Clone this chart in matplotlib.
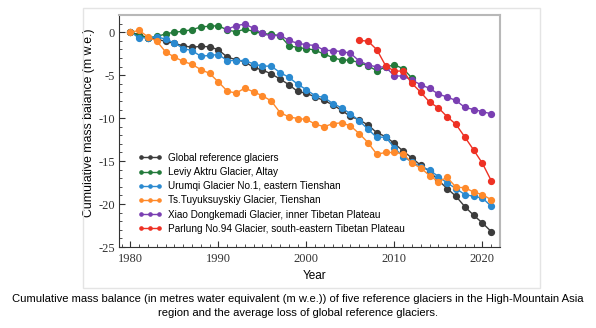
import numpy as np
import matplotlib.pyplot as plt
from matplotlib.ticker import MultipleLocator, FuncFormatter
from matplotlib.patches import Rectangle

# cumulative mass balance, m w.e.
years_global = list(range(1980, 2022))
global_ref = [0, -0.3, -0.65, -0.85, -1.05, -1.3, -1.6, -1.75, -1.65, -1.7,
              -2.05, -2.9, -3.2, -3.45, -4.1, -4.4, -4.85, -5.45, -6.1, -6.9,
              -7.1, -7.55, -7.95, -8.45, -9.1, -9.8, -10.2, -10.8, -11.7, -12.15,
              -12.95, -13.85, -14.65, -15.5, -16.2, -17.25, -18.2, -19.1, -20.3, -21.3,
              -22.2, -23.2]

years_leviy = list(range(1980, 2013))
leviy = [0, -0.4, -0.65, -0.5, -0.2, 0.0, 0.1, 0.3, 0.6, 0.7,
         0.75, 0.25, 0.05, 0.35, 0.1, -0.15, -0.25, -0.4, -1.55, -1.8,
         -1.9, -2.1, -2.55, -2.95, -3.25, -3.25, -3.55, -3.9, -4.5, -4.05,
         -3.8, -4.25, -5.35]

years_urumqi = list(range(1980, 2022))
urumqi = [0, -0.65, -0.65, -0.55, -0.8, -1.25, -1.9, -2.15, -2.8, -2.7,
          -2.6, -3.3, -3.3, -3.3, -3.7, -3.95, -3.95, -4.7, -5.25, -6.05,
          -6.7, -7.4, -7.6, -8.3, -8.8, -9.5, -10.3, -11.3, -12.25, -12.2,
          -13.45, -14.5, -15.1, -15.65, -16.05, -16.8, -17.55, -18.2, -18.9, -19.1,
          -19.3, -20.25]

years_tuyuksu = list(range(1980, 2022))
tuyuksu = [0, 0.2, -0.55, -1.05, -2.3, -2.9, -3.4, -3.75, -4.35, -4.8,
           -5.8, -6.85, -7.1, -6.5, -6.95, -7.4, -8.0, -9.35, -9.85, -10.05,
           -10.15, -10.7, -11.0, -10.65, -10.55, -10.9, -11.8, -12.85, -14.2, -14.0,
           -14.0, -14.15, -15.25, -15.8, -16.7, -17.4, -16.9, -18.05, -18.1, -18.6,
           -18.9, -19.5]

years_xiao = list(range(1991, 2022))
xiao = [0.35, 0.75, 0.95, 0.45, -0.15, -0.45, -0.35, -0.95, -1.3,
        -1.45, -1.55, -2.1, -2.15, -2.25, -2.45, -3.35, -3.8, -4.05, -4.05,
        -5.1, -5.1, -5.6, -6.1, -6.55, -7.2, -7.55, -7.95, -8.75, -9.0,
        -9.25, -9.5]

years_parlung = list(range(2006, 2022))
parlung = [-0.95, -1.05, -2.03, -3.9, -4.55, -4.5, -5.97, -7.0, -8.15, -8.8,
           -9.85, -10.73, -12.2, -13.7, -15.26, -17.27]

labels = ['Global reference glaciers',
          'Leviy Aktru Glacier, Altay',
          'Urumqi Glacier No.1, eastern Tienshan',
          'Ts.Tuyuksuyskiy Glacier, Tienshan',
          'Xiao Dongkemadi Glacier, inner Tibetan Plateau',
          'Parlung No.94 Glacier, south-eastern Tibetan Plateau']
colors = ['#3c3c3c', '#237a3b', '#2b8ad0', '#ff8a2b', '#7a3fb2', '#ee3124']

series = [(years_global, global_ref), (years_leviy, leviy), (years_urumqi, urumqi),
          (years_tuyuksu, tuyuksu), (years_xiao, xiao), (years_parlung, parlung)]

fig = plt.figure(figsize=(5.96, 3.28), dpi=100)
fig.add_artist(Rectangle((83 / 596, 1 - 288 / 328), 457 / 596, 280 / 328,
                         transform=fig.transFigure, fill=False,
                         edgecolor='#e4e4e4', lw=1))

ax = fig.add_axes([119 / 596, 1 - 247 / 328, 381 / 596, 232 / 328])
for (x, y), c, lab in zip(series, colors, labels):
    ax.plot(x, y, '-o', color=c, lw=1.0, ms=4.2, mec=c, label=lab)

ax.set_xlim(1978.7, 2022)
ax.set_ylim(-25, 2)
ax.xaxis.set_major_locator(MultipleLocator(10))
ax.xaxis.set_minor_locator(MultipleLocator(1))
ax.yaxis.set_major_locator(MultipleLocator(5))
ax.yaxis.set_minor_locator(MultipleLocator(1))
ax.yaxis.set_major_formatter(FuncFormatter(lambda v, p: '%d' % v))

ax.tick_params(which='both', direction='in', top=False, right=False, colors='#333333')
ax.tick_params(which='major', length=4, width=0.8, pad=3)
ax.tick_params(which='minor', length=2.5, width=0.6)
ax.tick_params(axis='x', which='major', pad=4)
for lab in ax.get_xticklabels() + ax.get_yticklabels():
    lab.set_fontfamily('Liberation Serif')
    lab.set_fontsize(9)

ax.spines['left'].set_color('#333333')
ax.spines['bottom'].set_color('#333333')
ax.spines['left'].set_linewidth(0.8)
ax.spines['bottom'].set_linewidth(0.8)
for s in ['top', 'right']:
    ax.spines[s].set_color('#b8b8b8')
    ax.spines[s].set_linewidth(1.5)

ax.set_xlabel('Year', family='Liberation Sans', fontsize=8.5)
ax.xaxis.set_label_coords(0.514, -0.1)
ax.set_ylabel('Cumulative mass balance (m w.e.)', family='Liberation Sans',
              fontsize=8.8, va='center')
ax.yaxis.set_label_coords(-0.08, 0.535)

ax.legend(loc='upper left', bbox_to_anchor=(0.04, 0.423), frameon=False,
          prop={'family': 'Liberation Sans', 'size': 7.2}, numpoints=3,
          markerscale=0.55, handlelength=2.4, handletextpad=0.6,
          labelspacing=0.42, borderaxespad=0)

fig.text(0.5, 1 - 299 / 328,
         'Cumulative mass balance (in metres water equivalent (m w.e.)) of five reference glaciers in the High-Mountain Asia',
         ha='center', va='center', family='Liberation Sans', fontsize=8.1)
fig.text(0.5, 1 - 313 / 328,
         'region and the average loss of global reference glaciers.',
         ha='center', va='center', family='Liberation Sans', fontsize=8.1)

plt.savefig('out.png', dpi=100)
